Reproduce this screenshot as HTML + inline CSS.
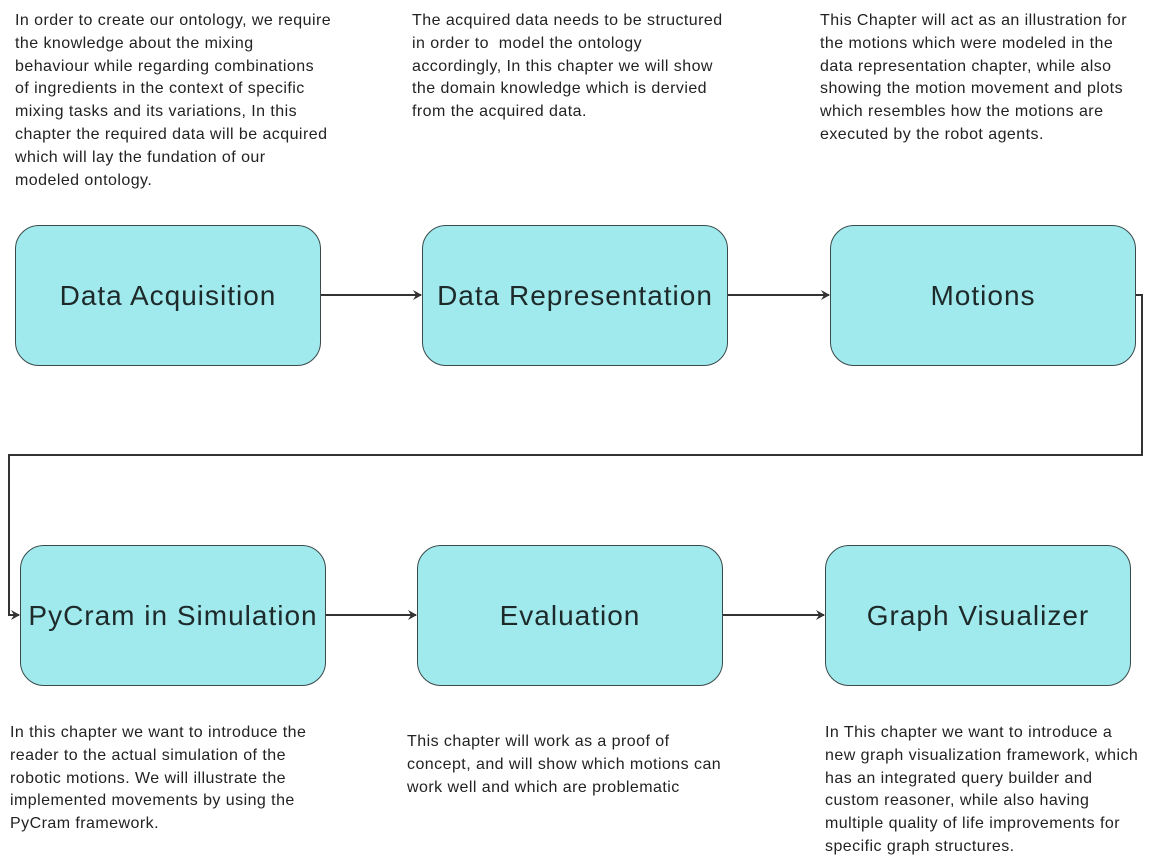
<!DOCTYPE html>
<html><head><meta charset="utf-8"><style>
body{margin:0;width:1152px;height:867px;background:#fff;position:relative;overflow:hidden;font-family:"Liberation Sans","DejaVu Sans",sans-serif;color:#222}
.b{position:absolute;width:306px;height:141px;background:#a0eaee;border:1px solid #3a4a4a;border-radius:24px;box-sizing:border-box;display:flex;align-items:center;justify-content:center;font-size:28px;letter-spacing:1px;color:#1e2a2a}
.t{position:absolute;font-size:16px;line-height:22.8px;letter-spacing:0.45px;color:#222;white-space:nowrap}
svg{position:absolute;left:0;top:0}
</style></head><body>
<div class="t" style="left:15px;top:10px">In order to create our ontology, we require<br>the knowledge about the mixing<br>behaviour while regarding combinations<br>of ingredients in the context of specific<br>mixing tasks and its variations, In this<br>chapter the required data will be acquired<br>which will lay the fundation of our<br>modeled ontology.</div>
<div class="t" style="left:412px;top:10px">The acquired data needs to be structured<br>in order to&nbsp; model the ontology<br>accordingly, In this chapter we will show<br>the domain knowledge which is dervied<br>from the acquired data.</div>
<div class="t" style="left:820px;top:10px">This Chapter will act as an illustration for<br>the motions which were modeled in the<br>data representation chapter, while also<br>showing the motion movement and plots<br>which resembles how the motions are<br>executed by the robot agents.</div>
<div class="b" style="left:15px;top:225px">Data Acquisition</div>
<div class="b" style="left:422px;top:225px">Data Representation</div>
<div class="b" style="left:830px;top:225px">Motions</div>
<div class="b" style="left:20px;top:545px">PyCram in Simulation</div>
<div class="b" style="left:417px;top:545px">Evaluation</div>
<div class="b" style="left:825px;top:545px">Graph Visualizer</div>
<div class="t" style="left:10px;top:722px">In this chapter we want to introduce the<br>reader to the actual simulation of the<br>robotic motions. We will illustrate the<br>implemented movements by using the<br>PyCram framework.</div>
<div class="t" style="left:407px;top:731px">This chapter will work as a proof of<br>concept, and will show which motions can<br>work well and which are problematic</div>
<div class="t" style="left:825px;top:722px">In This chapter we want to introduce a<br>new graph visualization framework, which<br>has an integrated query builder and<br>custom reasoner, while also having<br>multiple quality of life improvements for<br>specific graph structures.</div>
<svg width="1152" height="867">
<defs><marker id="a" markerWidth="10" markerHeight="10" refX="8" refY="5" orient="auto" markerUnits="userSpaceOnUse"><path d="M0,0 L9,5 L0,10 L3,5 Z" fill="#333"/></marker></defs>
<g stroke="#333" stroke-width="2" fill="none">
<line x1="321" y1="295" x2="421" y2="295" marker-end="url(#a)"/>
<line x1="728" y1="295" x2="829" y2="295" marker-end="url(#a)"/>
<polyline points="1136,295 1142,295 1142,455 9,455 9,615 19,615" marker-end="url(#a)"/>
<line x1="326" y1="615" x2="416" y2="615" marker-end="url(#a)"/>
<line x1="723" y1="615" x2="824" y2="615" marker-end="url(#a)"/>
</g></svg>
</body></html>
